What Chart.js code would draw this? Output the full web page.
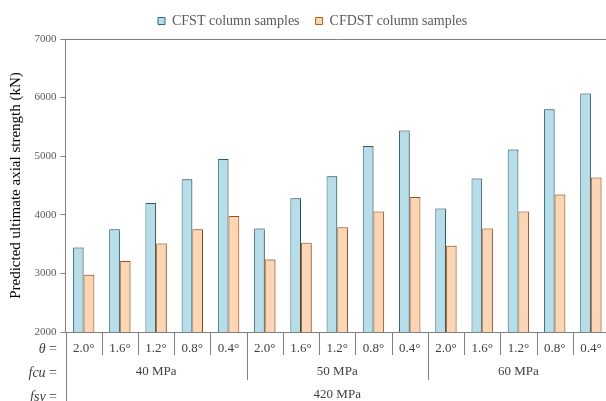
<!DOCTYPE html>
<html>
<head>
<meta charset="utf-8">
<script src="https://cdn.jsdelivr.net/npm/chart.js@4/dist/chart.umd.min.js"></script>
<style>
    html, body { margin: 0; padding: 0; background: #fff; }
    #wrap { width: 606px; height: 401px; overflow: hidden; position: relative; }
    #chart { display: block; }
</style>
</head>
<body>
<div id="wrap"><canvas id="chart" width="609" height="401"></canvas></div>
<script>
// data
const thetaLabels = ["2.0°", "1.6°", "1.2°", "0.8°", "0.4°"];
const fcuLabels = ["40 MPa", "50 MPa", "60 MPa"];
const fsyLabel = "420 MPa";
const categories = [];
fcuLabels.forEach((f) => thetaLabels.forEach((t) => categories.push(f + " " + t)));

const cfst = [3440, 3755, 4200, 4607, 4953, 3767, 4283, 4658, 5174, 5437, 4107, 4619, 5113, 5800, 6072];
const cfdst = [2976, 3210, 3511, 3755, 3981, 3238, 3522, 3789, 4056, 4305, 3471, 3767, 4056, 4346, 4636];
const yTicks = [2000, 3000, 4000, 5000, 6000, 7000];

const SERIF = "'Liberation Serif', 'Times New Roman', serif";
const GREY = "#808080";

// legend: fixed height so the plot starts at y=39, and moved a bit left like the original
const legendFix = {
    id: "legendFix",
    beforeLayout(chart) {
        const lg = chart.legend;
        if (lg && !lg._fixed) {
            const fit = lg.fit.bind(lg);
            lg.fit = function () {
                fit();
                this.height = 41;
            };
            lg._fixed = true;
        }
    },
    afterLayout(chart) {
        const lg = chart.legend;
        const shift = 142 - lg.left;
        lg.left += shift;
        lg.right += shift;
    },
};

// little drop shadow under the bars, like the original
const shadowPlugin = {
    id: "barShadow",
    beforeDatasetsDraw(chart) {
        const ctx = chart.ctx;
        ctx.save();
        ctx.shadowColor = "rgba(0,0,0,0.25)";
        ctx.shadowOffsetX = 1.5;
        ctx.shadowOffsetY = -1;
        ctx.shadowBlur = 1.5;
    },
    afterDatasetsDraw(chart) {
        chart.ctx.restore();
    },
};

// multi level category axis under the plot
const levelsPlugin = {
    id: "levels",
    afterDraw(chart) {
        const ctx = chart.ctx;
        const x = chart.scales.x;
        const bottom = chart.chartArea.bottom;
        const w = x.getPixelForValue(1) - x.getPixelForValue(0);
        const n = categories.length;
        const per = thetaLabels.length;

        ctx.save();
        ctx.strokeStyle = GREY;
        ctx.lineWidth = 1;
        for (let i = 0; i <= n; i++) {
            const bx = Math.round(x.getPixelForValue(i) - w / 2) + 0.5;
            let end = bottom + 23;
            if (i % per === 0) end = bottom + 48;
            if (i === 0) end = 401;
            ctx.beginPath();
            ctx.moveTo(bx, bottom);
            ctx.lineTo(bx, end);
            ctx.stroke();
        }

        ctx.fillStyle = "#404040";
        ctx.textBaseline = "middle";
        ctx.textAlign = "center";
        ctx.font = "13px " + SERIF;
        for (let i = 0; i < n; i++) {
            ctx.fillText(thetaLabels[i % per], x.getPixelForValue(i), bottom + 17);
        }
        fcuLabels.forEach((f, g) => {
            const cx = (x.getPixelForValue(g * per) + x.getPixelForValue(g * per + per - 1)) / 2;
            ctx.fillText(f, cx, bottom + 40);
        });
        const allMid = (x.getPixelForValue(0) + x.getPixelForValue(n - 1)) / 2;
        ctx.fillText(fsyLabel, allMid, bottom + 63);

        // row names on the left
        const rows = [["θ", bottom + 17], ["fcu", bottom + 41], ["fsy", bottom + 65]];
        rows.forEach(([name, y]) => {
            ctx.textAlign = "right";
            ctx.font = "14px " + SERIF;
            ctx.fillText(" =", 57, y);
            const eqW = ctx.measureText(" =").width;
            ctx.font = "italic 14px " + SERIF;
            ctx.fillText(name, 57 - eqW, y);
        });
        ctx.restore();
    },
};

new Chart(document.getElementById("chart"), {
    type: "bar",
    data: {
        labels: categories,
        datasets: [
            {
                label: "CFST column samples",
                data: cfst,
                backgroundColor: "#b7dee8",
                borderColor: "#31687a",
                borderWidth: 1,
            },
            {
                label: "CFDST column samples",
                data: cfdst,
                backgroundColor: "#fcd5b5",
                borderColor: "#b0601e",
                borderWidth: 1,
            },
        ],
    },
    options: {
        responsive: false,
        animation: false,
        categoryPercentage: 0.59,
        barPercentage: 1.0,
        layout: { padding: { top: -2, left: 0, right: 0, bottom: 0 } },
        plugins: {
            legend: {
                position: "top",
                align: "start",
                labels: {
                    boxWidth: 7,
                    boxHeight: 7,
                    padding: 16,
                    color: "#595959",
                    font: { family: SERIF, size: 14 },
                },
            },
            tooltip: { enabled: false },
        },
        scales: {
            x: {
                grid: { display: false },
                ticks: { display: false },
                border: { color: GREY },
                afterFit(scale) {
                    scale.height = 69;
                },
            },
            y: {
                min: 2000,
                max: 7000,
                afterBuildTicks(scale) {
                    scale.ticks = yTicks.map((v) => ({ value: v }));
                },
                grid: {
                    color: (c) => (c.tick && c.tick.value === 7000 ? GREY : "rgba(0,0,0,0)"),
                    tickColor: GREY,
                    tickLength: 5,
                },
                border: { color: GREY },
                ticks: {
                    padding: 4,
                    color: "#595959",
                    font: { family: SERIF, size: 11 },
                    callback: (v) => String(v),
                },
                title: {
                    display: true,
                    text: "Predicted ultimate axial strength (kN)",
                    color: "#000",
                    font: { family: SERIF, size: 15 },
                    padding: { top: 7, bottom: 4 },
                },
                afterFit(scale) {
                    scale.width = 65.5;
                },
            },
        },
    },
    plugins: [legendFix, shadowPlugin, levelsPlugin],
});
</script>
</body>
</html>
